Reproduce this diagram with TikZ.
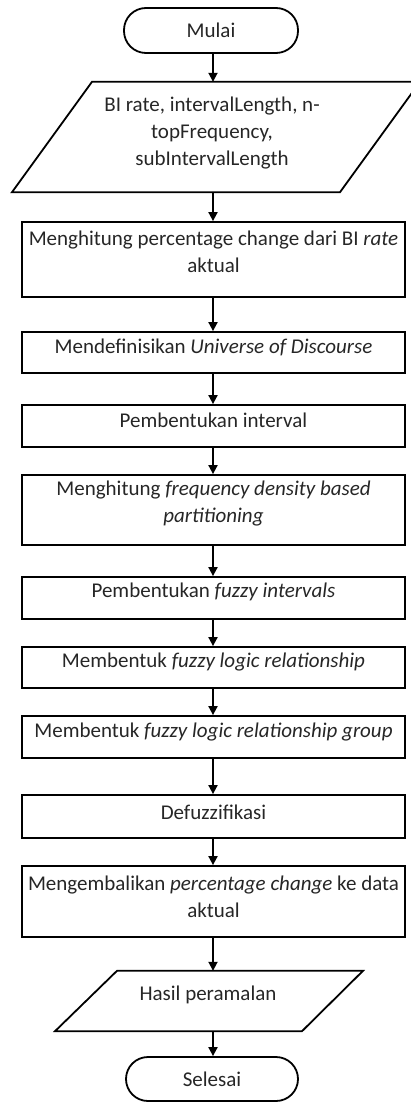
\documentclass[tikz,border=0pt]{standalone}
\usepackage{fontspec}
\setmainfont{Carlito}
\usetikzlibrary{arrows.meta}
\begin{document}
\begin{tikzpicture}[x=1pt,y=-1pt,
  shapeline/.style={draw=black, line width=1.8pt},
  procbox/.style={shapeline, rectangle, minimum width=383pt, inner sep=0pt},
  term/.style={shapeline, rectangle, rounded corners=22pt, minimum width=174pt, minimum height=45pt, inner sep=0pt, text=black!85, font=\fontsize{21}{27}\selectfont},
  ghost/.style={rectangle, inner sep=0pt},
  lbl/.style={align=center, text=black!85, font=\fontsize{21}{27}\selectfont, inner sep=0pt},
  arr/.style={line width=1.8pt, -{Triangle[length=9pt,width=9pt]}}]
\useasboundingbox (0,0) rectangle (411,1102);
\coordinate (ax) at (213,0);

\node[term] (mulai) at (211,30.5) {Mulai};

\node[ghost, minimum width=200pt, minimum height=110pt] (in) at (216,137) {};
\draw[shapeline] ([xshift=-124pt]in.north) -- ([xshift=204pt]in.north) -- ([xshift=124pt]in.south) -- ([xshift=-204pt]in.south) -- cycle;
\node[lbl] (inT) at (212,133.5) {BI rate, intervalLength, n-\\topFrequency,\\subIntervalLength};

\node[procbox, minimum height=75pt] (b1) at (213.5,259.5) {};
\node[lbl] (b1T) at (213.5,251.5) {Menghitung percentage change dari BI \textit{rate}\\aktual};

\node[procbox, minimum height=41pt] (b2) at (213.5,352.5) {};
\node[lbl] (b2T) at (213.5,347) {Mendefinisikan \textit{Universe of Discourse}};

\node[procbox, minimum height=42pt] (b3) at (213.5,426) {};
\node[lbl] (b3T) at (213.5,420) {Pembentukan interval};

\node[procbox, minimum height=70pt] (b4) at (213.5,510) {};
\node[lbl] (b4T) at (213.5,503.5) {Menghitung \textit{frequency density based}\\\textit{partitioning}};

\node[procbox, minimum height=42pt] (b5) at (213.5,598) {};
\node[lbl] (b5T) at (213.5,592) {Pembentukan \textit{fuzzy intervals}};

\node[procbox, minimum height=41pt] (b6) at (213.5,667.5) {};
\node[lbl] (b6T) at (213.5,662) {Membentuk \textit{fuzzy logic relationship}};

\node[procbox, minimum height=42pt] (b7) at (213.5,737) {};
\node[lbl] (b7T) at (213.5,732) {Membentuk \textit{fuzzy logic relationship group}};

\node[procbox, minimum height=43pt] (b8) at (213.5,816.5) {};
\node[lbl] (b8T) at (213.5,812) {Defuzzifikasi};

\node[procbox, minimum height=71pt] (b9) at (213.5,901.5) {};
\node[lbl] (b9T) at (213.5,896.5) {Mengembalikan \textit{percentage change} ke data\\aktual};

\node[ghost, minimum width=150pt, minimum height=60pt] (out) at (209,1001) {};
\draw[shapeline] ([xshift=-92pt]out.north) -- ([xshift=154pt]out.north) -- ([xshift=93pt]out.south) -- ([xshift=-154pt]out.south) -- cycle;
\node[lbl] (outT) at (208,995) {Hasil peramalan};

\node[term, minimum width=172pt, minimum height=44pt] (selesai) at (212,1079) {Selesai};

\draw[arr] (mulai.south -| ax) -- (in.north -| ax);
\draw[arr] (in.south -| ax) -- (b1.north -| ax);
\draw[arr] (b1.south -| ax) -- (b2.north -| ax);
\draw[arr] (b2.south -| ax) -- (b3.north -| ax);
\draw[arr] (b3.south -| ax) -- (b4.north -| ax);
\draw[arr] (b4.south -| ax) -- (b5.north -| ax);
\draw[arr] (b5.south -| ax) -- (b6.north -| ax);
\draw[arr] (b6.south -| ax) -- (b7.north -| ax);
\draw[arr] (b7.south -| ax) -- (b8.north -| ax);
\draw[arr] (b8.south -| ax) -- (b9.north -| ax);
\draw[arr] (b9.south -| ax) -- (out.north -| ax);
\draw[arr] (out.south -| ax) -- (selesai.north -| ax);
\end{tikzpicture}
\end{document}
